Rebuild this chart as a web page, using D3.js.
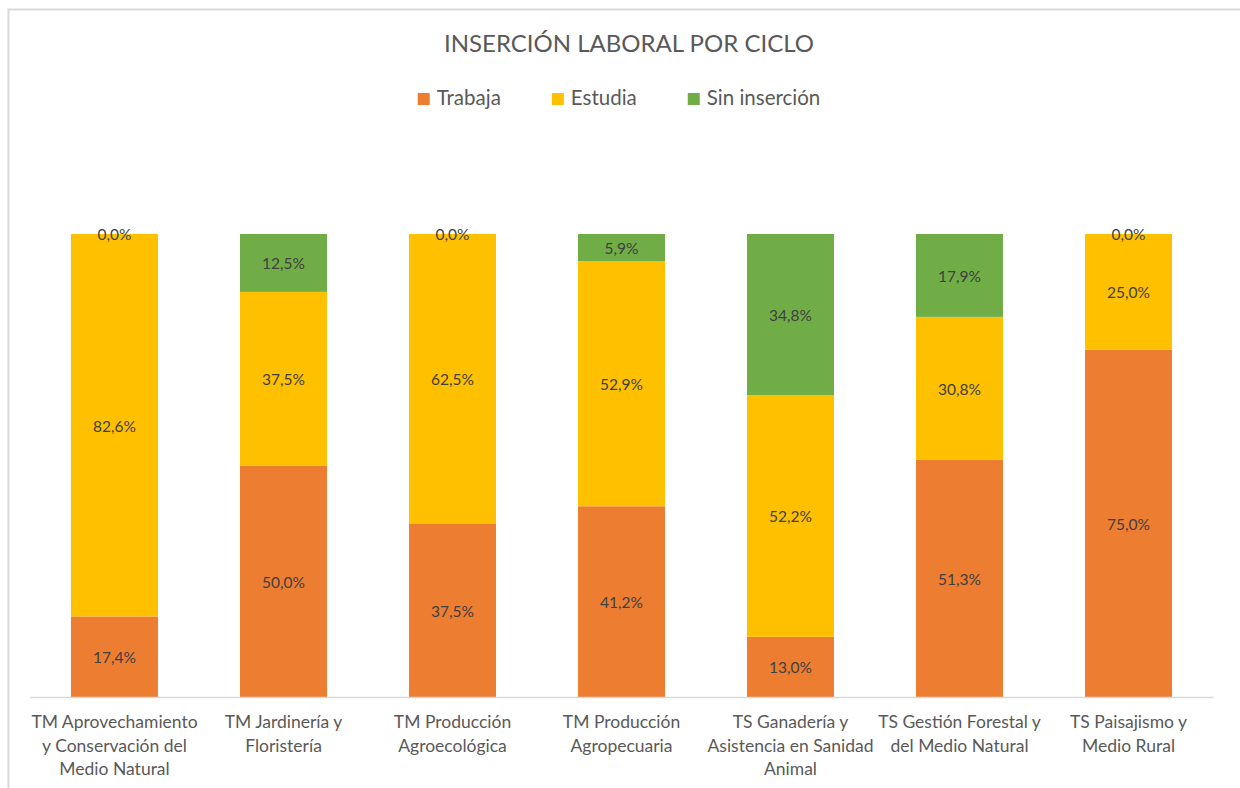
<!DOCTYPE html>
<html><head><meta charset="utf-8">
<script src="https://cdn.jsdelivr.net/npm/d3@7"></script>
<style>
html,body{margin:0;padding:0;background:#fff;}
svg{display:block;}
text{font-family:Lato,"Open Sans",sans-serif;}
</style></head>
<body><svg id="c" width="1240" height="788"></svg>
<script>
const title = "INSERCIÓN LABORAL POR CICLO";
const categories = [
  "TM Aprovechamiento|y Conservación del|Medio Natural",
  "TM Jardinería y|Floristería",
  "TM Producción|Agroecológica",
  "TM Producción|Agropecuaria",
  "TS Ganadería y|Asistencia en Sanidad|Animal",
  "TS Gestión Forestal y|del Medio Natural",
  "TS Paisajismo y|Medio Rural"
];
const seriesNames = ["Trabaja", "Estudia", "Sin inserción"];
const seriesColors = ["#ED7D31", "#FFC000", "#70AD47"];
const trabaja = [17.4, 50.0, 37.5, 41.2, 13.0, 51.3, 75.0];
const estudia = [82.6, 37.5, 62.5, 52.9, 52.2, 30.8, 25.0];
const sinInsercion = [0.0, 12.5, 0.0, 5.9, 34.8, 17.9, 0.0];

const svg = d3.select("#c");
// chart border
svg.append("rect").attr("x", 8.5).attr("y", 9.5).attr("width", 1240).attr("height", 800)
  .attr("fill", "none").attr("stroke", "#d9d9d9").attr("stroke-width", 2);

const plot = {left: 30, right: 1213, top: 234, bottom: 697};
const x = d3.scaleBand().domain(categories).range([plot.left, plot.right]).paddingInner(0.485).paddingOuter(0.2425);
const y = d3.scaleLinear().domain([0, 100]).range([plot.bottom, plot.top]);

const rows = categories.map((c, i) => ({cat: c, "Trabaja": trabaja[i], "Estudia": estudia[i], "Sin inserción": sinInsercion[i]}));
const stack = d3.stack().keys(seriesNames)(rows);

const g = svg.append("g");
stack.forEach((layer, si) => {
  g.append("g").selectAll("rect").data(layer).join("rect")
    .attr("x", d => x(d.data.cat))
    .attr("width", x.bandwidth())
    .attr("y", d => y(d[1]))
    .attr("height", d => y(d[0]) - y(d[1]))
    .attr("fill", seriesColors[si]);
});
// labels
stack.forEach((layer, si) => {
  g.append("g").selectAll("text").data(layer).join("text")
    .attr("x", d => x(d.data.cat) + x.bandwidth() / 2)
    .attr("y", d => (y(d[0]) + y(d[1])) / 2 + 1)
    .attr("dy", "0.35em")
    .attr("text-anchor", "middle")
    .attr("font-size", 15.5)
    .attr("fill", "#404040")
    .text(d => d3.format(".1f")(d[1] - d[0]).replace(".", ",") + "%");
});

// axis
const xAxis = d3.axisBottom(x).tickSize(0).tickFormat("");
const ax = svg.append("g").attr("transform", `translate(0,${plot.bottom})`).call(xAxis);
ax.select(".domain").attr("stroke", "#d9d9d9").attr("stroke-width", 1.5);
ax.selectAll(".tick").each(function(d) {
  const t = d3.select(this).append("text")
    .attr("text-anchor", "middle").attr("fill", "#595959").attr("font-size", 17.5).attr("y", 31);
  d.split("|").forEach((line, i) => {
    t.append("tspan").attr("x", 0).attr("dy", i === 0 ? 0 : 23.5).text(line);
  });
});

// title
svg.append("text").attr("x", 629).attr("y", 52).attr("text-anchor", "middle")
  .attr("font-size", 24).attr("fill", "#595959").text(title);

// legend
const leg = svg.append("g");
let lx = 0;
seriesNames.forEach((n, i) => {
  const it = leg.append("g").attr("transform", `translate(${lx},0)`);
  it.append("rect").attr("x", 0).attr("y", -5).attr("width", 12).attr("height", 12).attr("fill", seriesColors[i]);
  const t = it.append("text").attr("x", 19).attr("y", 0).attr("dy", "0.35em").attr("font-size", 20.5).attr("fill", "#595959").text(n);
  lx += 19 + t.node().getComputedTextLength() + 51;
});
const legW = lx - 51;
leg.attr("transform", `translate(${619 - legW / 2},98)`);
</script></body></html>
